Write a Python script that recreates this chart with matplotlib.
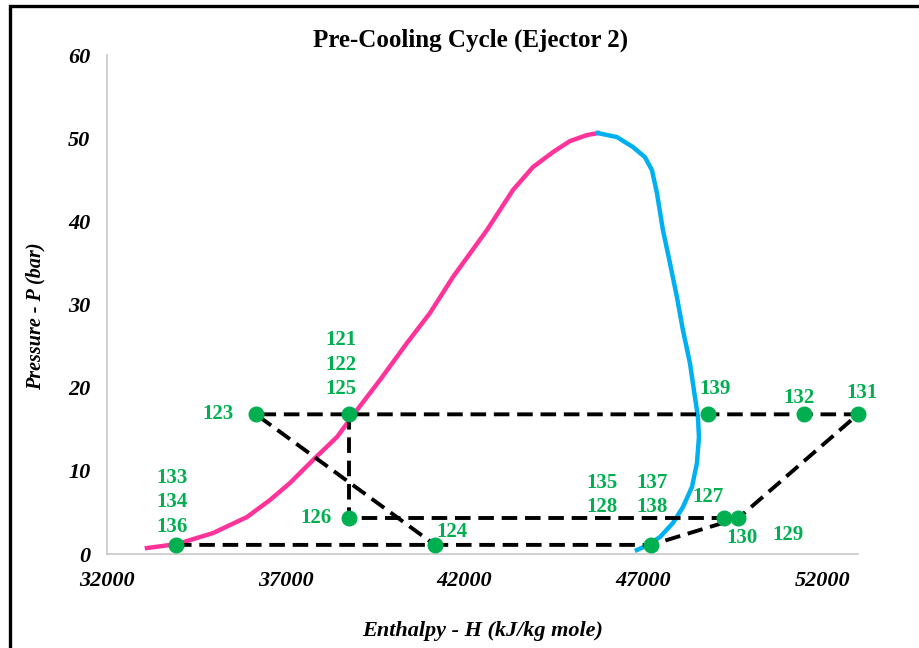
import matplotlib
matplotlib.use("Agg")
import matplotlib.pyplot as plt
from matplotlib.patches import Rectangle

plt.rcParams['font.family'] = ['Liberation Serif', 'DejaVu Serif']

# saturation dome: liquid side (pink) and vapour side (blue)
liq_h = [33118, 33957, 34964, 35914, 36557, 37116, 37760, 38431, 38990, 39633,
         40388, 41031, 41674, 42625, 43352, 43911, 44470, 44945, 45421, 45728]
liq_p = [0.72, 1.20, 2.52, 4.45, 6.49, 8.54, 11.30, 14.07, 17.31, 20.92,
         25.37, 28.98, 33.31, 38.96, 43.77, 46.53, 48.33, 49.66, 50.38, 50.62]
vap_h = [45728, 46260, 46707, 47042, 47238, 47378, 47546, 47742, 47937, 48105,
         48301, 48441, 48525, 48553, 48497, 48357, 48105, 47825, 47462, 47126, 46819]
vap_p = [50.62, 50.14, 48.94, 47.73, 46.17, 43.41, 38.96, 34.99, 30.90, 26.93,
         22.97, 18.88, 16.47, 14.07, 10.94, 8.06, 5.65, 3.73, 2.04, 1.08, 0.48]

# cycle state points
state_names = ['123', '121', '139', '132', '131', '126', '127', '130', '124', '136', '137']
state_h = [36166, 38766, 48800, 51500, 53000, 38766, 49260, 49650, 41170, 33930, 47210]
state_p = [16.8, 16.8, 16.8, 16.8, 16.8, 4.3, 4.3, 4.3, 1.1, 1.1, 1.1]

# stream paths through the states
path_main = ['136', '124', '137', '130', '131', '132', '139', '121', '123', '124']
path_mid = ['121', '126', '127', '130']

green = '#00B050'
fig = plt.figure(figsize=(9.19, 6.48), dpi=100)
ax = fig.add_axes([0.1164, 0.145, 0.8172, 0.770])

ax.plot(liq_h, liq_p, color='#FF3399', lw=3.2, solid_joinstyle='round', zorder=2)
ax.plot(vap_h, vap_p, color='#00B0F0', lw=3.2, solid_joinstyle='round', zorder=2)

idx = {n: i for i, n in enumerate(state_names)}
for path in (path_main, path_mid):
    hs = [state_h[idx[n]] for n in path]
    ps = [state_p[idx[n]] for n in path]
    ax.plot(hs, ps, color='black', lw=2.8, dashes=(4, 2), zorder=3, clip_on=False)

ax.plot(state_h, state_p, 'o', color=green, ms=10.5, zorder=4, clip_on=False)

# point labels: (text, anchor state, offset in points, vertical alignment)
point_labels = [
    ('121\n122\n125', '121', (-6, 11), 'bottom'),
    ('123', '123', (-27, 0), 'center'),
    ('126', '126', (-24, 0), 'center'),
    ('124', '124', (12, 9), 'center'),
    ('133\n134\n136', '136', (-3, 6), 'bottom'),
    ('139', '139', (5, 18), 'center'),
    ('132', '132', (-4, 12), 'center'),
    ('131', '131', (3, 15), 'center'),
    ('135\n128', '137', (-35, 36), 'center'),
    ('137\n138', '137', (1, 36), 'center'),
    ('127', '127', (-12, 15), 'center'),
    ('130', '130', (3, -14), 'center'),
    ('129', '130', (36, -12), 'center'),
]
for text, name, off, va in point_labels:
    ax.annotate(text, (state_h[idx[name]], state_p[idx[name]]), xytext=off,
                textcoords='offset points', ha='center', va=va, color=green,
                fontsize=15, fontweight='bold', linespacing=1.3)

ax.set_xlim(32000, 53000)
ax.set_ylim(0, 60)
ax.set_xticks(range(32000, 53001, 5000))
ax.set_yticks(range(0, 61, 10))
ax.tick_params(length=0, pad=12)
for lab in ax.get_xticklabels() + ax.get_yticklabels():
    lab.set_fontsize(16)
    lab.set_fontweight('bold')
    lab.set_fontstyle('italic')

for side in ('top', 'right'):
    ax.spines[side].set_visible(False)
for side in ('left', 'bottom'):
    ax.spines[side].set_color('#C8C8C8')
    ax.spines[side].set_linewidth(1.2)

ax.set_xlabel('Enthalpy - H (kJ/kg mole)', fontsize=16, fontweight='bold',
              fontstyle='italic', labelpad=22)
ax.set_ylabel('Pressure - P (bar)', fontsize=14.5, fontweight='bold',
              fontstyle='italic')
ax.yaxis.set_label_coords(-0.082, 0.477)
fig.text(0.512, 0.938, 'Pre-Cooling Cycle (Ejector 2)', ha='center', va='center',
         fontsize=18, fontweight='bold')

# outer frame
fig.patches.append(Rectangle((10 / 919, -0.1), 1.2, 1.1 - 6 / 648, transform=fig.transFigure,
                             fill=False, edgecolor='black', lw=2.4))

fig.savefig('out.png', dpi=100)
